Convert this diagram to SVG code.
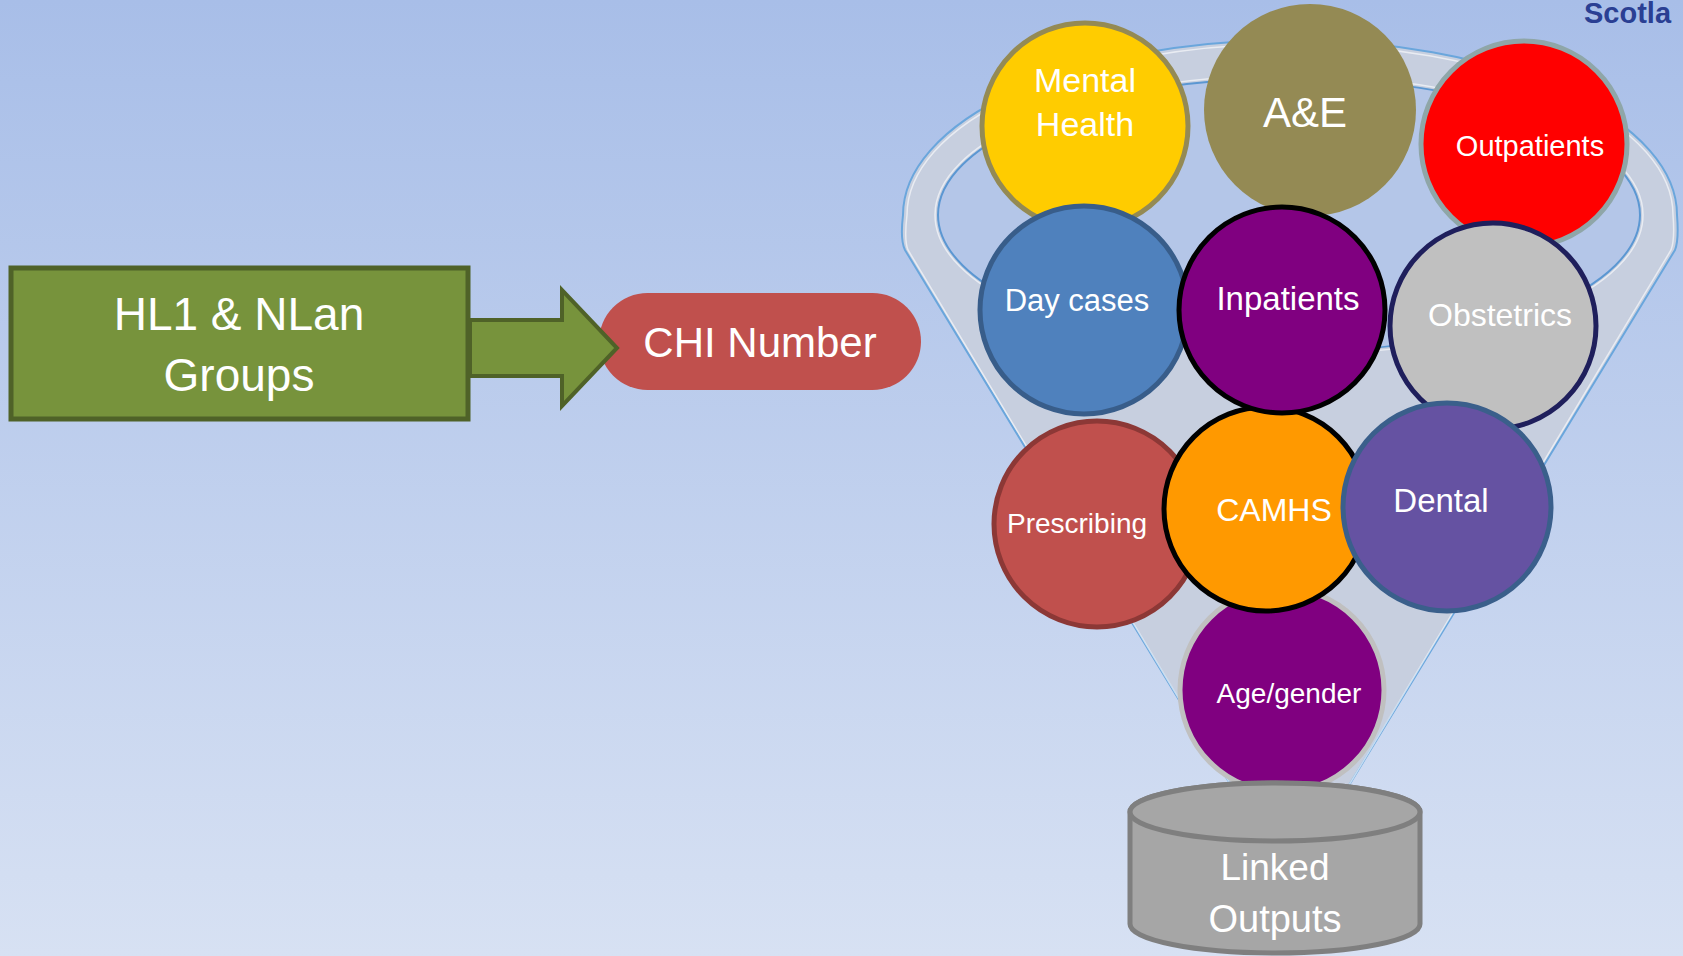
<svg xmlns="http://www.w3.org/2000/svg" width="1683" height="956" viewBox="0 0 1683 956">
<defs>
<linearGradient id="bg" x1="0" y1="0" x2="0" y2="1">
<stop offset="0" stop-color="#a8bee8"/>
<stop offset="1" stop-color="#d7e1f3"/>
</linearGradient>
<style>
.t{font-family:"Liberation Sans",Arial,sans-serif;fill:#ffffff;text-anchor:middle}
.c{stroke-width:5}
</style>
</defs>
<rect width="1683" height="956" fill="url(#bg)"/>
<text x="1584" y="23" font-family="Liberation Sans,Arial,sans-serif" font-weight="bold" font-size="29" fill="#2a3f93">Scotla</text>
<g id="funnel">
<path d="M1240,800 L905,250 Q900,240 903,215 A387 175 0 0 1 1677,215 Q1679,240 1675,250 L1340,800 Z" fill="#c7cfdf" stroke="#6aa6dc" stroke-width="2"/>
<path d="M1240,800 L908,250 Q904,240 907,215 A383 171 0 0 1 1673,215 Q1675,240 1671,250 L1340,800" fill="none" stroke="#ffffff" stroke-opacity="0.6" stroke-width="1.5"/>
<ellipse cx="1289" cy="215" rx="351" ry="137" fill="#b4c6e8" stroke="#5b97d2" stroke-width="2"/>
<ellipse cx="1289" cy="215" rx="354" ry="140" fill="none" stroke="#ffffff" stroke-opacity="0.6" stroke-width="1.5"/>
</g>
<g id="hl1">
<rect x="11" y="268" width="457" height="151" fill="#77933c" stroke="#4f6228" stroke-width="5"/>
<text class="t" x="239" y="330" font-size="46">HL1 &amp; NLan</text>
<text class="t" x="239" y="391" font-size="46">Groups</text>
</g>
<g id="chi">
<rect x="599" y="293" width="322" height="97" rx="48.5" fill="#c0504d"/>
<text class="t" x="760" y="357" font-size="42">CHI Number</text>
</g>
<g id="connectors">
<polygon points="470,320 562,320 562,290 617,348 562,406 562,376 470,376" fill="#77933c" stroke="#4f6228" stroke-width="4" stroke-linejoin="miter"/>
</g>
<g id="mental-health">
<circle class="c" cx="1085" cy="126" r="103" fill="#ffcc00" stroke="#948a54"/>
<text class="t" x="1085" y="92" font-size="34">Mental</text>
<text class="t" x="1085" y="136" font-size="34">Health</text>
</g>
<g id="ae">
<circle cx="1310" cy="110" r="106" fill="#948a54"/>
<text class="t" x="1305" y="127" font-size="42">A&amp;E</text>
</g>
<g id="outpatients">
<circle class="c" cx="1524" cy="144" r="103" fill="#ff0000" stroke="#8fa6a8"/>
<text class="t" x="1530" y="156" font-size="29">Outpatients</text>
</g>
<g id="age-gender">
<circle class="c" cx="1282" cy="690" r="102" fill="#800080" stroke="#c0c0c0"/>
<text class="t" x="1289" y="703" font-size="28">Age/gender</text>
</g>
<g id="prescribing">
<circle class="c" cx="1097" cy="524" r="103" fill="#c0504d" stroke="#8c3836"/>
<text class="t" x="1077" y="533" font-size="28">Prescribing</text>
</g>
<g id="camhs">
<circle class="c" cx="1266" cy="509" r="102" fill="#ff9900" stroke="#000000"/>
<text class="t" x="1274" y="521" font-size="32">CAMHS</text>
</g>
<g id="day-cases">
<circle class="c" cx="1084" cy="310" r="104" fill="#4f81bd" stroke="#385d8a"/>
<text class="t" x="1077" y="311" font-size="31">Day cases</text>
</g>
<g id="inpatients">
<circle class="c" cx="1282" cy="310" r="103" fill="#800080" stroke="#000000"/>
<text class="t" x="1288" y="310" font-size="33">Inpatients</text>
</g>
<g id="obstetrics">
<circle class="c" cx="1493" cy="326" r="103" fill="#c0c0c0" stroke="#1f1f5c"/>
<text class="t" x="1500" y="326" font-size="32">Obstetrics</text>
</g>
<g id="dental">
<circle class="c" cx="1447" cy="507" r="104" fill="#6552a2" stroke="#3a5f8b"/>
<text class="t" x="1441" y="512" font-size="33">Dental</text>
</g>
<g id="linked-outputs">
<path d="M1130,812 L1130,924 A145 29 0 0 0 1420,924 L1420,812 A145 29 0 0 0 1130,812 Z" fill="#a6a6a6" stroke="#7f7f7f" stroke-width="5"/>
<ellipse cx="1275" cy="812" rx="145" ry="29" fill="#a6a6a6" stroke="#7f7f7f" stroke-width="5"/>
<text class="t" x="1275" y="880" font-size="37">Linked</text>
<text class="t" x="1275" y="932" font-size="38">Outputs</text>
</g>
</svg>
